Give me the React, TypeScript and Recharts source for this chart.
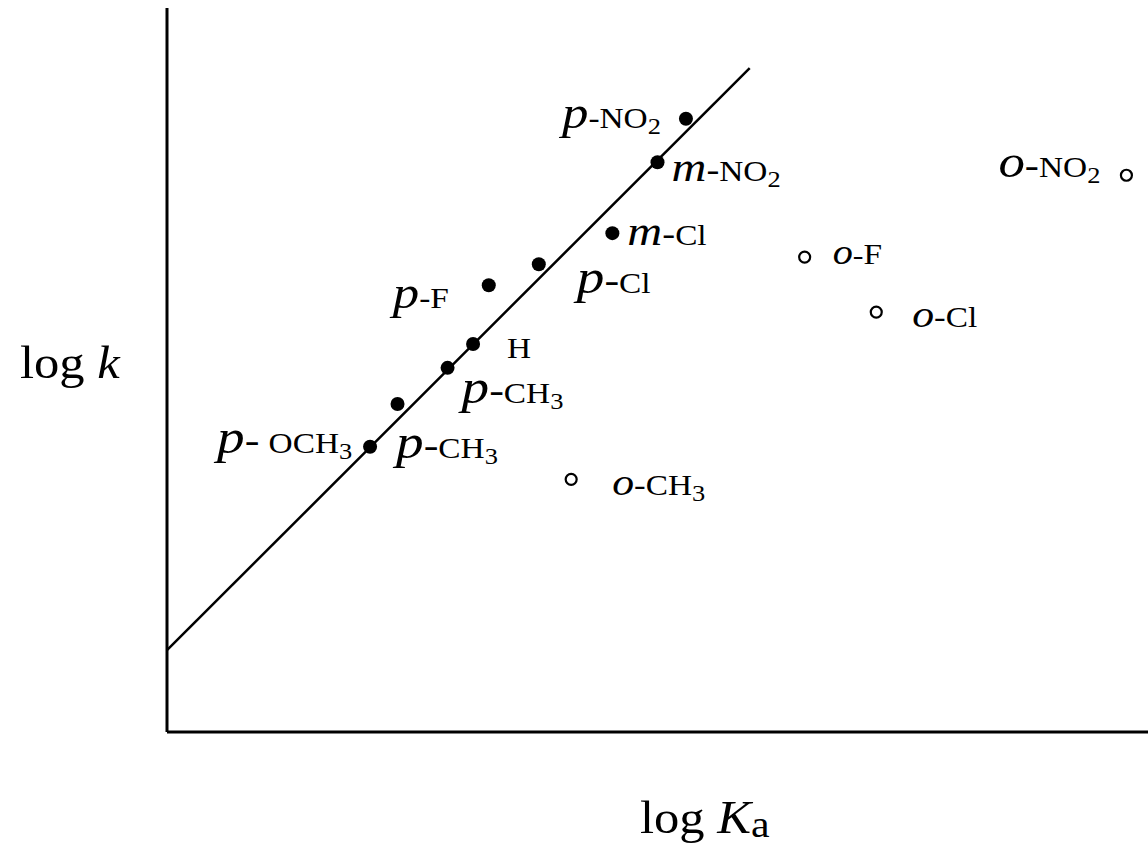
import React from "react";
import { ScatterChart, Scatter, XAxis, YAxis, ReferenceLine } from "recharts";

// substituted benzoic acids: log k vs log Ka (arbitrary units, no ticks)
const filledLabels = ["p-NO2", "m-NO2", "m-Cl", "p-Cl", "p-F", "H", "p-CH3", "", "p-OCH3;p-CH3"];
const filledX = [5.29, 5.0, 4.54, 3.79, 3.28, 3.12, 2.86, 2.35, 2.07];
const filledY = [8.47, 7.87, 6.89, 6.46, 6.17, 5.36, 5.03, 4.53, 3.94];

const openLabels = ["o-CH3", "o-F", "o-Cl", "o-NO2"];
const openX = [4.12, 6.5, 7.23, 9.78];
const openY = [3.49, 6.56, 5.8, 7.69];

const fitX = [0, 5.94];
const fitY = [1.13, 9.17];

// label placement (pixels from the marker), kept apart from the data
interface LabelPos {
  dx: number;
  dy: number;
  big: number;
  smallDash?: boolean;
  gap?: number;
}
const layout: Record<string, LabelPos[]> = {
  "p-NO2": [{ dx: -124, dy: 9, big: 46, smallDash: true }],
  "m-NO2": [{ dx: 14, dy: 19, big: 42 }],
  "m-Cl": [{ dx: 15, dy: 12, big: 42 }],
  "p-Cl": [{ dx: 38, dy: 29, big: 48 }],
  "p-F": [{ dx: -96, dy: 23, big: 46, smallDash: true }],
  H: [{ dx: 34, dy: 14, big: 44 }],
  "p-CH3": [{ dx: 14, dy: 35, big: 48 }],
  "p-OCH3;p-CH3": [
    { dx: -153, dy: 6, big: 48, gap: 8 },
    { dx: 26, dy: 11, big: 48 },
  ],
  "o-CH3": [{ dx: 41, dy: 16, big: 38 }],
  "o-F": [{ dx: 28, dy: 7, big: 35 }],
  "o-Cl": [{ dx: 36, dy: 15, big: 38 }],
  "o-NO2": [{ dx: -128, dy: 2, big: 46 }],
};

const FONT = "'Liberation Serif', 'Times New Roman', serif";
const GROUP = 29;
const SUB = 23;
const STRETCH = 1.15;

const filled = filledX.map((x, i) => ({ x, y: filledY[i], label: filledLabels[i] }));
const open = openX.map((x, i) => ({ x, y: openY[i], label: openLabels[i] }));
const fit = fitX.map((x, i) => ({ x, y: fitY[i] }));

function Label({ text, x, y, pos }: { text: string; x: number; y: number; pos: LabelPos }) {
  const m = text.match(/^([pmo])-([A-Za-z]+?)(\d?)$/);
  const tf = `translate(${x + pos.dx},${y + pos.dy}) scale(${STRETCH},1)`;
  if (!m) {
    return (
      <text transform={tf} fontFamily={FONT} fontSize={GROUP}>
        {text}
      </text>
    );
  }
  const [, prefix, group, sub] = m;
  return (
    <text transform={tf} fontFamily={FONT} fill="#000">
      <tspan fontFamily={FONT} fontStyle="italic" fontSize={pos.big}>{prefix}</tspan>
      <tspan fontFamily={FONT} fontSize={pos.smallDash ? GROUP : pos.big * 0.8}>-</tspan>
      <tspan fontFamily={FONT} fontSize={GROUP} dx={pos.gap || 0}>{group}</tspan>
      {sub && (
        <tspan fontFamily={FONT} fontSize={SUB} dy={6}>
          {sub}
        </tspan>
      )}
    </text>
  );
}

function makeShape(hollow: boolean) {
  return (props: any) => {
    const { cx, cy, payload } = props;
    const names: string[] = payload.label ? payload.label.split(";") : [];
    const pos = layout[payload.label] || [];
    return (
      <g>
        {hollow ? (
          <circle cx={cx} cy={cy} r={5.5} fill="#fff" stroke="#000" strokeWidth={2.2} />
        ) : (
          <circle cx={cx} cy={cy} r={7} fill="#000" />
        )}
        {names.map((n, k) => (
          <Label key={k} text={n} x={cx} y={cy} pos={pos[k]} />
        ))}
      </g>
    );
  };
}

export default function App() {
  return (
    <div style={{ position: "absolute", left: 0, top: 0, width: 1148, height: 846, background: "#fff" }}>
      <ScatterChart width={1148} height={846} margin={{ top: 8, right: 0, bottom: 113, left: 166 }}>
        <XAxis
          type="number"
          dataKey="x"
          domain={[0, 10]}
          height={1}
          tick={false}
          tickLine={false}
          axisLine={{ stroke: "#000", strokeWidth: 3 }}
          allowDataOverflow
        />
        <YAxis
          type="number"
          dataKey="y"
          domain={[0, 10]}
          width={1}
          tick={false}
          tickLine={false}
          axisLine={{ stroke: "#000", strokeWidth: 3 }}
          allowDataOverflow
        />
        <ReferenceLine
          segment={[fit[0], fit[1]]}
          stroke="#000"
          strokeWidth={2.5}
          ifOverflow="visible"
        />
        <Scatter data={filled} shape={makeShape(false)} isAnimationActive={false} />
        <Scatter data={open} shape={makeShape(true)} isAnimationActive={false} />
      </ScatterChart>
      <svg
        width={1148}
        height={846}
        style={{ position: "absolute", left: 0, top: 0, pointerEvents: "none" }}
      >
        <text transform={`translate(20,378) scale(1.1,1)`} fontFamily={FONT} fontSize={46}>
          log <tspan fontFamily={FONT} fontStyle="italic">k</tspan>
        </text>
        <text transform={`translate(640,833) scale(1.1,1)`} fontFamily={FONT} fontSize={46}>
          log <tspan fontFamily={FONT} fontStyle="italic">K</tspan>
          <tspan fontFamily={FONT} fontSize={38} dy={4}>a</tspan>
        </text>
      </svg>
    </div>
  );
}
